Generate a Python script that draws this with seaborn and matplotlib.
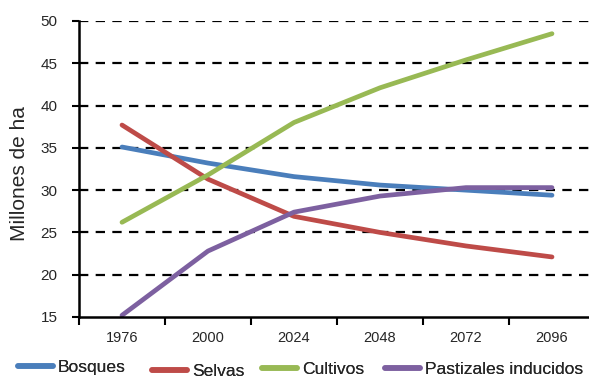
import matplotlib
matplotlib.use("Agg")
import matplotlib.pyplot as plt
import seaborn as sns
import pandas as pd
import numpy as np

years = ["1976", "2000", "2024", "2048", "2072", "2096"]
bosques = [35.1, 33.2, 31.6, 30.6, 30.0, 29.4]
selvas = [37.7, 31.3, 26.9, 25.0, 23.4, 22.1]
cultivos = [26.2, 31.8, 38.0, 42.1, 45.4, 48.5]
pastizales = [15.2, 22.8, 27.4, 29.3, 30.3, 30.3]
series_names = ["Bosques", "Selvas", "Cultivos", "Pastizales inducidos"]
colors = ["#4A7EBB", "#BE4B48", "#98B954", "#7D60A0"]
y_ticks = [15, 20, 25, 30, 35, 40, 45, 50]

sns.set_style("white")
plt.rcParams["font.family"] = ["Liberation Sans", "DejaVu Sans"]

rows = []
for name, vals in zip(series_names, [bosques, selvas, cultivos, pastizales]):
    for i, (yr, v) in enumerate(zip(years, vals)):
        rows.append({"pos": i, "year": yr, "value": v, "serie": name})
df = pd.DataFrame(rows)

fig = plt.figure(figsize=(5.89, 3.78), dpi=100)
ax = fig.add_axes([79/589, 1-317/378, 516/589, 296/378])

for yv in y_ticks[1:]:
    ax.axhline(yv, color="black", lw=1.6, dashes=(4.2, 3.3), zorder=1)

sns.lineplot(data=df, x="pos", y="value", hue="serie", palette=colors,
             hue_order=series_names, lw=3.4, ax=ax, legend=True, zorder=3,
             solid_capstyle="round")

ax.set_xlim(-0.5, 5.5)
ax.set_ylim(15, 50)
ax.set_yticks(y_ticks)
ax.set_yticklabels([str(t) for t in y_ticks], fontsize=11)
ax.set_xticks(range(len(years)))
ax.set_xticklabels(years, fontsize=10.5)
ax.set_xticks(np.arange(-0.5, 5.6, 1.0), minor=True)
ax.tick_params(axis="x", which="major", length=0, pad=10)
ax.tick_params(axis="x", which="minor", length=6, width=1.5, color="black", direction="out", bottom=True)
ax.tick_params(axis="y", which="major", length=5, width=1.5, color="black", direction="out", left=True, pad=10.5)
ax.set_xlabel("")
ax.set_ylabel("Millones de ha", fontsize=15)
ax.yaxis.set_label_coords(-0.097, 0.486)

for s in ["top", "right"]:
    ax.spines[s].set_visible(False)
for s in ["left", "bottom"]:
    ax.spines[s].set_color("black")
    ax.spines[s].set_linewidth(1.8)
ax.spines["bottom"].set_zorder(4)

handles, labels = ax.get_legend_handles_labels()
ax.get_legend().remove()
leg_pos = [(18, 367), (152, 371), (262, 369), (385, 369)]
for h, lab, (px, py) in zip(handles, labels, leg_pos):
    lg = fig.legend([h], [lab], loc="center left", bbox_to_anchor=(px/589, 1-py/378),
                    frameon=False, fontsize=12.6, handlelength=2.0, handletextpad=0.28,
                    borderpad=0, borderaxespad=0)
    for ln in lg.get_lines():
        ln.set_linewidth(4)
    fig.add_artist(lg)

fig.savefig("out.png", dpi=100)
